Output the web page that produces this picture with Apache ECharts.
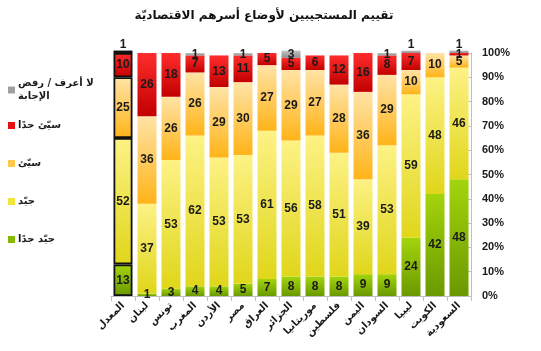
<!DOCTYPE html>
<html><head><meta charset="utf-8">
<script src="https://cdn.jsdelivr.net/npm/echarts@6/dist/echarts.min.js"></script>
<style>html,body{margin:0;padding:0;background:#fff}#c{width:541px;height:351px}</style>
</head><body><div id="c"></div>
<script>
const categories = ['المعدل','لبنان','تونس','المغرب','الأردن','مصر','العراق','الجزائر','موريتانيا','فلسطين','اليمن','السودان','ليبيا','الكويت','السعودية'];
const veryGood = [13,1,3,4,4,5,7,8,8,8,9,9,24,42,48];
const good     = [52,37,53,62,53,53,61,56,58,51,39,53,59,48,46];
const bad      = [25,36,26,26,29,30,27,29,27,28,36,29,10,10,5];
const veryBad  = [10,26,18,7,13,11,5,5,6,12,16,8,7,0,1];
const dontKnow = [1,0,0,1,0,1,0,3,0,0,0,1,1,0,1];
const seriesNames = ['جيّد جدًا','جيّد','سيّئ','سيّئ جدًا','لا أعرف / رفض\nالإجابة'];
const yTicks = [0,10,20,30,40,50,60,70,80,90,100];

const grad = (a,b) => new echarts.graphic.LinearGradient(0,0,0,1,[{offset:0,color:a},{offset:1,color:b}]);
const colors = [
  ['#a4d40c','#6a9900'],
  ['#fdf285','#e0d61a'],
  ['#ffe3a6','#ffb418'],
  ['#ff2c2c','#c20000'],
  ['#c4c4c4','#8e8e8e']
];
const legendColors = ['#86b800','#f0e63a','#ffc94d','#e81010','#a0a0a0'];
const labelFont = {fontFamily:'Liberation Sans',fontWeight:'bold',fontSize:12,color:'#1a1a1a'};
const topLabelIdx = [0,12,14];

function build(vals, si){
  return vals.map((v,i)=>{
    const d = {value:v};
    if(i===0){ d.itemStyle = {borderColor:'#111',borderWidth:1.8}; }
    if(si===4 && topLabelIdx.includes(i)){ d.label = {show:true,position:'top',distance:0}; }
    return d;
  });
}
const all = [veryGood,good,bad,veryBad,dontKnow];
const series = all.map((vals,si)=>({
  name: seriesNames[si],
  type:'bar', stack:'s', barWidth:19, clip:false,
  data: build(vals,si),
  itemStyle:{color:grad(colors[si][0],colors[si][1])},
  label:{show:true,position:'inside',...labelFont,formatter:p=>p.value?String(p.value):''},
  labelLayout:{hideOverlap:false},
  emphasis:{disabled:true}
}));

const legendTops = [228,190,152,114,72];
const legends = seriesNames.map((n,si)=>({
  data:[{name:n,itemStyle:{color:legendColors[si]}}],
  left:3, top:legendTops[si], itemWidth:7, itemHeight:7, itemGap:0,
  icon:'rect', selectedMode:false,
  textStyle:{fontFamily:'DejaVu Sans',fontWeight:'bold',fontSize:10,color:'#1a1a1a',padding:[0,0,0,-2],lineHeight:13}
}));

const chart = echarts.init(document.getElementById('c'),null,{renderer:'canvas'});
chart.setOption({
  backgroundColor:'#fff',
  animation:false,
  title:{text:'تقييم المستجيبين لأوضاع أسرهم الاقتصاديّة',left:259,top:5,textAlign:'center',
    textStyle:{fontFamily:'DejaVu Sans',fontWeight:'bold',fontSize:12,color:'#111'}},
  legend:legends,
  grid:{left:111,right:70,top:53,bottom:55},
  xAxis:{type:'category',data:categories,
    axisLine:{lineStyle:{color:'#bfbfbf',width:1}},
    axisTick:{show:true,length:5,lineStyle:{color:'#bfbfbf'}},
    axisLabel:{rotate:45,interval:0,margin:8,fontFamily:'DejaVu Sans',fontWeight:'bold',fontSize:10,color:'#1a1a1a'}},
  yAxis:{type:'value',position:'right',min:0,max:100,interval:10,
    axisLine:{show:true,lineStyle:{color:'#bfbfbf'}},
    axisTick:{show:true,inside:true,length:4,lineStyle:{color:'#bfbfbf'}},
    splitLine:{show:false},
    axisLabel:{margin:11,fontFamily:'Liberation Sans',fontWeight:'bold',fontSize:11,color:'#1a1a1a',
      formatter:v=>yTicks.includes(v)?v+'%':''}},
  series
});
</script></body></html>
